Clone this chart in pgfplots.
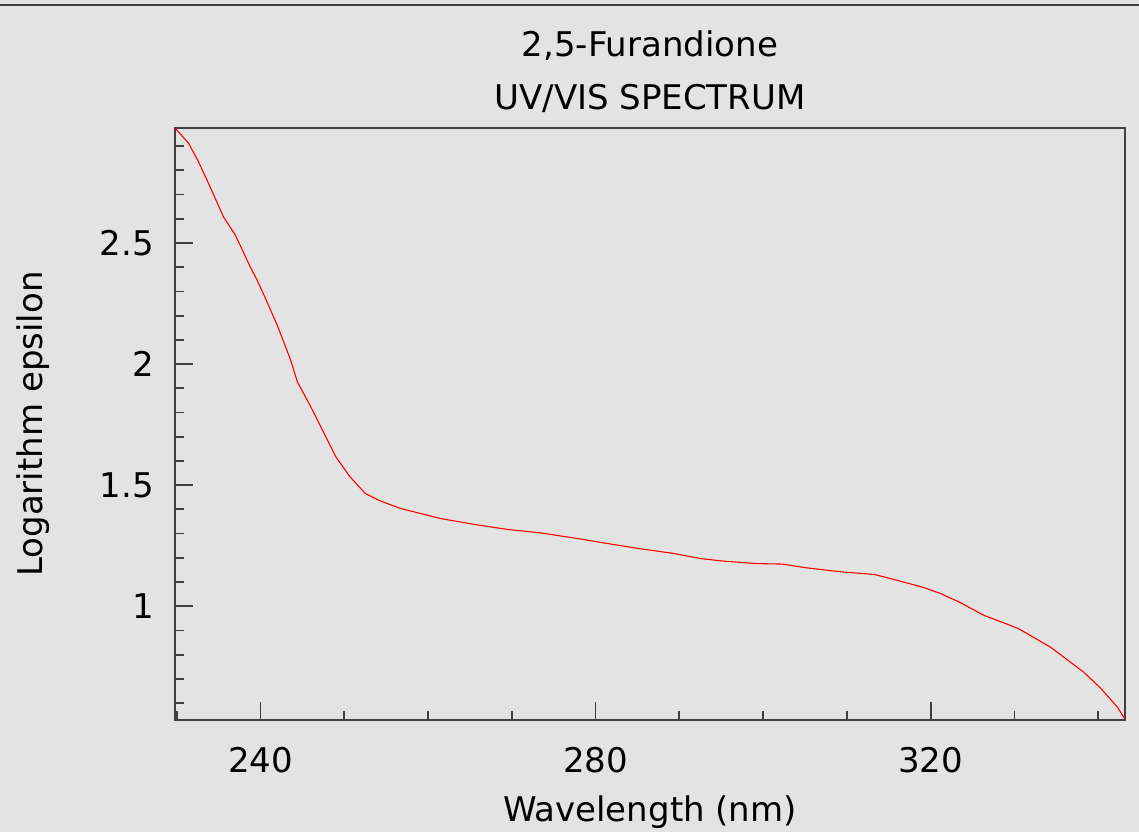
\documentclass[border=0pt]{standalone}
\usepackage{fontspec}
\setmainfont{DejaVu Sans}
\usepackage{pgfplots}
\pgfplotsset{compat=1.18}

\definecolor{bggray}{RGB}{227,227,227}
\definecolor{framegray}{RGB}{64,64,64}

\begin{document}
\fontsize{17}{20}\selectfont
\begin{tikzpicture}
  \path[use as bounding box] (0,0) rectangle (569.5pt,416pt);
  \fill[bggray] (0,0) rectangle (569.5pt,416pt);
  \draw[framegray, line width=1pt] (0,413.5pt) -- (569.5pt,413.5pt);
  \begin{axis}[
      at={(87.5pt,56pt)}, anchor=south west,
      scale only axis,
      width=475pt, height=296pt,
      clip mode=individual,
      xmin=229.8, xmax=343.2,
      ymin=0.53, ymax=2.975,
      xtick={240,280,320},
      minor xtick={230,250,260,270,290,300,310,330,340},
      ytick={1,1.5,2,2.5},
      minor ytick={0.6,0.7,0.8,0.9,1.1,1.2,1.3,1.4,1.6,1.7,1.8,1.9,2.1,2.2,2.3,2.4,2.6,2.7,2.8,2.9},
      tick pos=left, tick align=inside,
      major tick length=9pt, minor tick length=4.5pt,
      axis line style={framegray, line width=0.9pt},
      every tick/.style={framegray, line width=0.9pt},
      /pgf/number format/assume math mode=true,
      xticklabel style={anchor=base, yshift=-26pt},
      yticklabel style={anchor=east, xshift=-4.8pt},
      yticklabel={\pgfmathprintnumber[fixed]{\tick}},
      xlabel={Wavelength (nm)},
      ylabel={Logarithm epsilon},
      every axis x label/.style={at={(axis description cs:0.5,-0.172)}, anchor=base},
      every axis y label/.style={at={(axis description cs:-0.139,0.5)}, anchor=base, rotate=90},
    ]
    \addplot[red, line width=0.55pt] coordinates {
      (229.8,2.975) (231.4,2.913) (232.5,2.843) (234.0,2.731) (235.6,2.607)
      (237.0,2.533) (238.8,2.400) (239.6,2.347) (240.6,2.271) (242.0,2.161)
      (243.6,2.017) (244.4,1.927) (246.0,1.824) (247.6,1.714) (249.0,1.617)
      (250.7,1.534) (252.5,1.466) (254.3,1.435) (256.7,1.404) (259.1,1.383)
      (261.5,1.362) (265.5,1.338) (269.5,1.317) (273.4,1.303) (277.4,1.282)
      (281.4,1.259) (285.4,1.237) (289.3,1.218) (292.5,1.197) (295.3,1.186)
      (299.3,1.176) (302.3,1.174) (305.3,1.158) (309.3,1.142) (313.3,1.131)
      (316.0,1.107) (319.2,1.077) (321.2,1.052) (323.6,1.014) (326.3,0.963)
      (330.4,0.909) (334.3,0.831) (338.3,0.727) (340.3,0.661) (342.3,0.583)
      (343.2,0.533)
    };
    \node[anchor=base] at (axis description cs:0.5,1.12) {2,5-Furandione};
    \node[anchor=base] at (axis description cs:0.5,1.032) {UV/VIS SPECTRUM};
  \end{axis}
\end{tikzpicture}
\end{document}
